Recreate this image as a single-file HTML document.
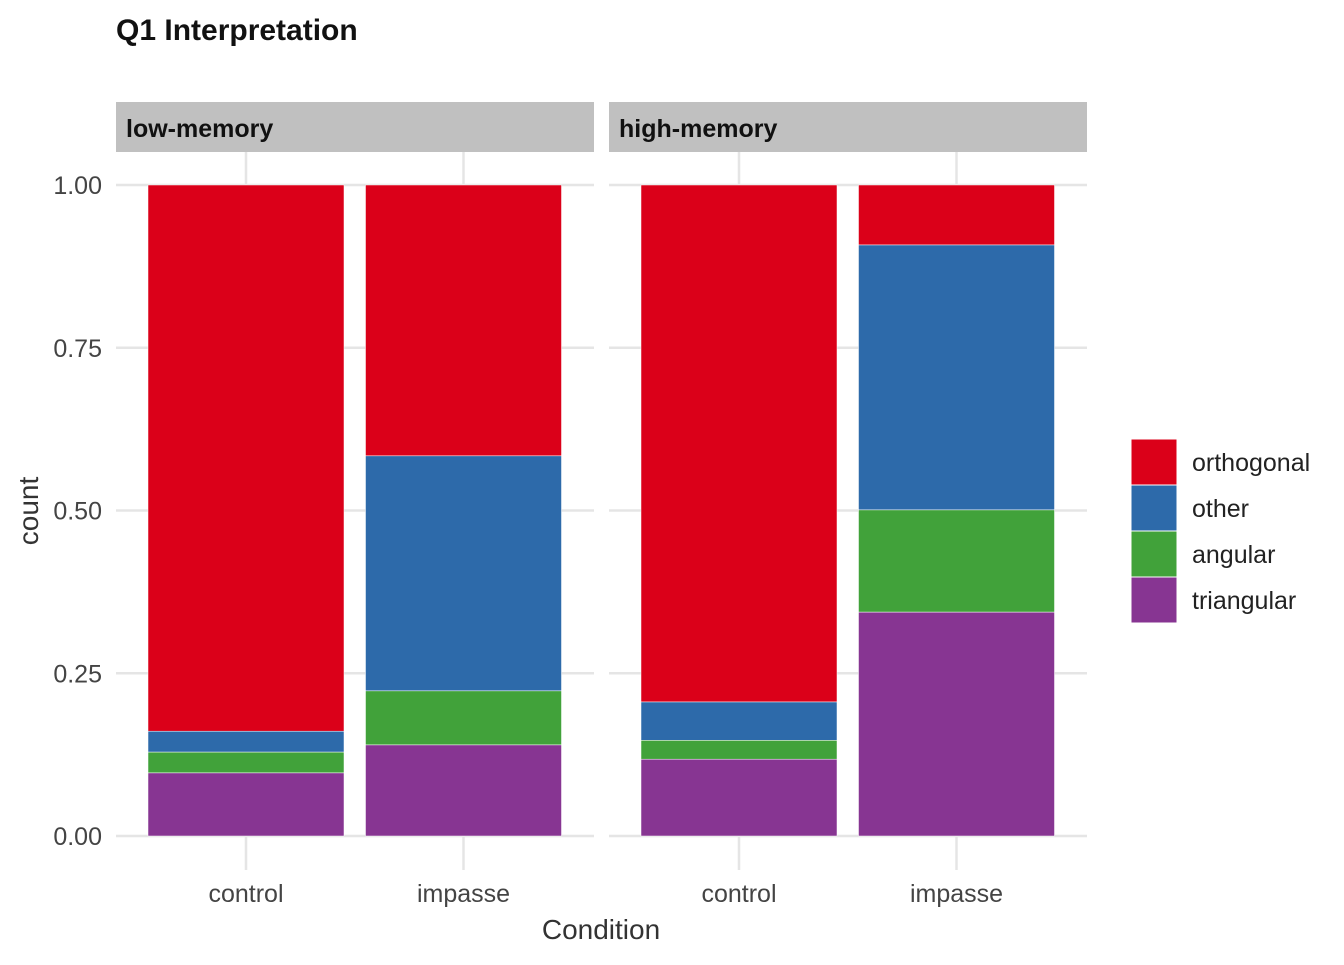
<!DOCTYPE html>
<html><head><meta charset="utf-8"><style>
html,body{margin:0;padding:0;background:#fff;}
svg text{font-family:"Liberation Sans Narrow","Liberation Sans",sans-serif;}
</style></head><body>
<svg id="chart" width="1344" height="960" xmlns="http://www.w3.org/2000/svg"></svg>
<script>
const panels = ["low-memory","high-memory"];
const conditions = ["control","impasse"];
const seriesNames = ["triangular","angular","other","orthogonal"];
const triangular = [[0.097,0.140],[0.118,0.344]];
const angular = [[0.032,0.083],[0.029,0.157]];
const other = [[0.032,0.361],[0.059,0.407]];
const orthogonal = [[0.839,0.416],[0.794,0.092]];
const yTicks = [0,0.25,0.5,0.75,1];
const yTickLabels = ["0.00","0.25","0.50","0.75","1.00"];
const colors = {triangular:"#873592",angular:"#41a23a",other:"#2d6aaa",orthogonal:"#db0019"};
const legendOrder = ["orthogonal","other","angular","triangular"];

const svg = document.getElementById('chart');
const NS = "http://www.w3.org/2000/svg";
function mk(tag, attrs, parent){const e=document.createElementNS(NS,tag);for(const k in attrs)e.setAttribute(k,attrs[k]);(parent||svg).appendChild(e);return e;}
const y = v => 836 - v*651;
const panelX = [116,609], panelW = 478;
const x = (p,c) => panelX[p] + 32 + c*217.5; // bar left
const barW = 196;

let t = mk('text',{x:116,y:40,'font-size':30,'font-weight':'bold',fill:'#111'});

t.textContent="Q1 Interpretation";

const data = {triangular,angular,other,orthogonal};
panels.forEach((pn,p)=>{
  const g = mk('g',{});
  
  const s = mk('rect',{x:panelX[p],y:102,width:panelW,height:50,fill:'#c0c0c0'},g);
  
  const st = mk('text',{x:panelX[p]+10,y:137,'font-size':25,'font-weight':'bold',fill:'#111'},g);
  
  st.textContent=pn;
  yTicks.forEach(v=>{const l=mk('line',{x1:panelX[p],x2:panelX[p]+panelW,y1:y(v),y2:y(v),stroke:'#e5e5e5','stroke-width':2.5},g);
    });
  conditions.forEach((c,ci)=>{
    const cx = x(p,ci)+barW/2;
    const l=mk('line',{x1:cx,x2:cx,y1:152,y2:870,stroke:'#e5e5e5','stroke-width':2.5},g);
    
  });
  conditions.forEach((c,ci)=>{
    let cum=0;
    seriesNames.forEach(sn=>{
      const v=data[sn][p][ci];
      const r=mk('rect',{x:x(p,ci),y:y(cum+v),width:barW,height:y(cum)-y(cum+v),fill:colors[sn],stroke:'#fff','stroke-width':0.5},g);
      
      cum+=v;
    });
    const tl=mk('text',{x:x(p,ci)+barW/2,y:902,'font-size':25,fill:'#444','text-anchor':'middle'},g);
    
    tl.textContent=c;
  });
});
yTicks.forEach((v,i)=>{const tl=mk('text',{x:102,y:y(v)+9,'font-size':25,fill:'#444','text-anchor':'end'});
  tl.textContent=yTickLabels[i];});
const xt=mk('text',{x:601,y:939,'font-size':28,fill:'#333','text-anchor':'middle'});
xt.textContent="Condition";
const yt=mk('text',{x:38,y:511,'font-size':28,fill:'#333','text-anchor':'middle',transform:'rotate(-90 38 511)'});
yt.textContent="count";
const lg=mk('g',{});
legendOrder.forEach((sn,i)=>{
  const r=mk('rect',{x:1131,y:439+i*46,width:46,height:46,fill:colors[sn],stroke:'#fff','stroke-width':1},lg);
  
  const tl=mk('text',{x:1192,y:471+i*46,'font-size':25,fill:'#222'},lg);
  tl.textContent=sn;
});
</script>
</body></html>
